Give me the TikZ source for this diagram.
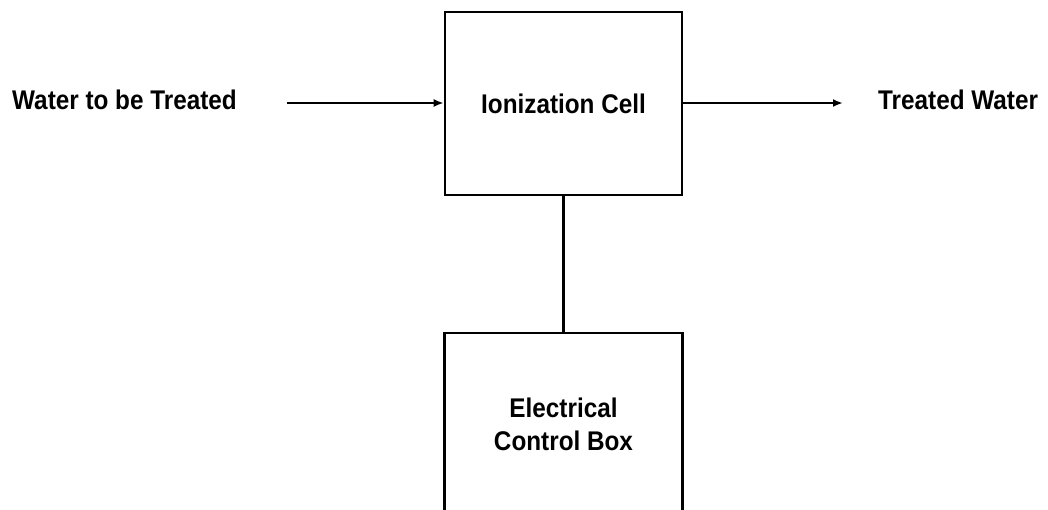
\documentclass[tikz,border=0pt]{standalone}
\usepackage{fontspec}
\newfontfamily\lblfont{Liberation Sans}[FakeStretch=0.9]
\usetikzlibrary{arrows.meta}
\begin{document}
\begin{tikzpicture}[x=1pt,y=-1pt,
  lbl/.style={font=\lblfont\bfseries\fontsize{27}{33}\selectfont, inner sep=0pt},
  box/.style={draw, line width=2.6pt, rectangle, inner sep=0pt, lbl, align=center},
  flow/.style={line width=2.2pt, -{Latex[length=10pt,width=8pt]}},
  wire/.style={line width=2.4pt}]
\clip (0,0) rectangle (1048,509);
\fill[white] (0,0) rectangle (1048,509);
\node[box, minimum width=237pt, minimum height=183pt] (cell) at (563.5,103.5) {Ionization Cell};
\node[box, minimum width=238pt, minimum height=182pt] (ctrl) at (563.5,424) {Electrical\\Control Box};
\node[lbl, anchor=base west] (in) at (12,109) {Water to be Treated};
\node[lbl, anchor=base west] (out) at (878,109) {Treated Water};
\coordinate (inStart) at (287,103);
\coordinate (outEnd) at (843,103);
\draw[flow] (inStart) -- (inStart -| cell.west);
\draw[flow] (cell.east |- outEnd) -- (outEnd);
\draw[wire] (cell.south) -- (ctrl.north);
\end{tikzpicture}
\end{document}
